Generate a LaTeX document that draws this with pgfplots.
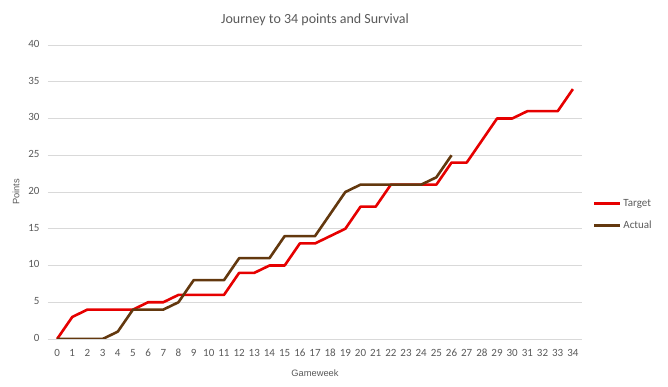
\documentclass[border=0pt]{standalone}
\usepackage{pgfplots}
\pgfplotsset{compat=1.18}
\usepackage{fontspec}
\setmainfont{Carlito}
\newfontfamily\arialf{Liberation Sans}
\definecolor{tgt}{RGB}{230,0,0}
\definecolor{act}{RGB}{99,56,14}
\definecolor{txt}{RGB}{89,89,89}
\definecolor{grd}{RGB}{217,217,217}
\begin{document}
\begin{tikzpicture}
\path[use as bounding box] (0pt,0pt) rectangle (668pt,387pt);
\begin{axis}[
  at={(48pt,48pt)}, anchor=south west,
  scale only axis, width=534pt, height=294pt,
  xmin=-0.6, xmax=34.6, ymin=0, ymax=40,
  xtick={0,...,34}, ytick={0,5,...,40},
  axis line style={draw=none},
  major tick length=0pt,
  ymajorgrids, grid style={grd, line width=0.8pt},
  tick label style={font=\fontsize{11}{12}\selectfont, text=txt},
  typeset ticklabels with strut,
  xticklabel style={yshift=-6pt},
  yticklabel style={xshift=-5pt},
  /pgf/number format/assume math mode=true,
  xlabel={Gameweek}, ylabel={Points},
  label style={font=\arialf\fontsize{9.3}{11}\selectfont, text=txt},
  xlabel style={yshift=-2pt},
  ylabel style={yshift=2pt},
  title={Journey to 34 points and Survival},
  title style={font=\fontsize{14}{16}\selectfont, text=txt, yshift=10pt},
  legend style={at={(1.02,0.423)}, anchor=west, draw=none, fill=none,
    font=\fontsize{11}{12}\selectfont, text=txt, row sep=9pt,
    legend cell align=left, inner sep=0pt},
  legend image code/.code={\draw[#1, line width=2.5pt] (0,0) -- (26pt,0);},
]
\addplot[tgt, line width=2.6pt, line join=round] coordinates {
(0,0)(1,3)(2,4)(3,4)(4,4)(5,4)(6,5)(7,5)(8,6)(9,6)(10,6)(11,6)(12,9)(13,9)(14,10)(15,10)(16,13)(17,13)(18,14)(19,15)(20,18)(21,18)(22,21)(23,21)(24,21)(25,21)(26,24)(27,24)(28,27)(29,30)(30,30)(31,31)(32,31)(33,31)(34,34)};
\addlegendentry{Target}
\addplot[act, line width=2.6pt, line join=round] coordinates {
(0,0)(1,0)(2,0)(3,0)(4,1)(5,4)(6,4)(7,4)(8,5)(9,8)(10,8)(11,8)(12,11)(13,11)(14,11)(15,14)(16,14)(17,14)(18,17)(19,20)(20,21)(21,21)(22,21)(23,21)(24,21)(25,22)(26,25)};
\addlegendentry{Actual}
\end{axis}
\end{tikzpicture}
\end{document}
